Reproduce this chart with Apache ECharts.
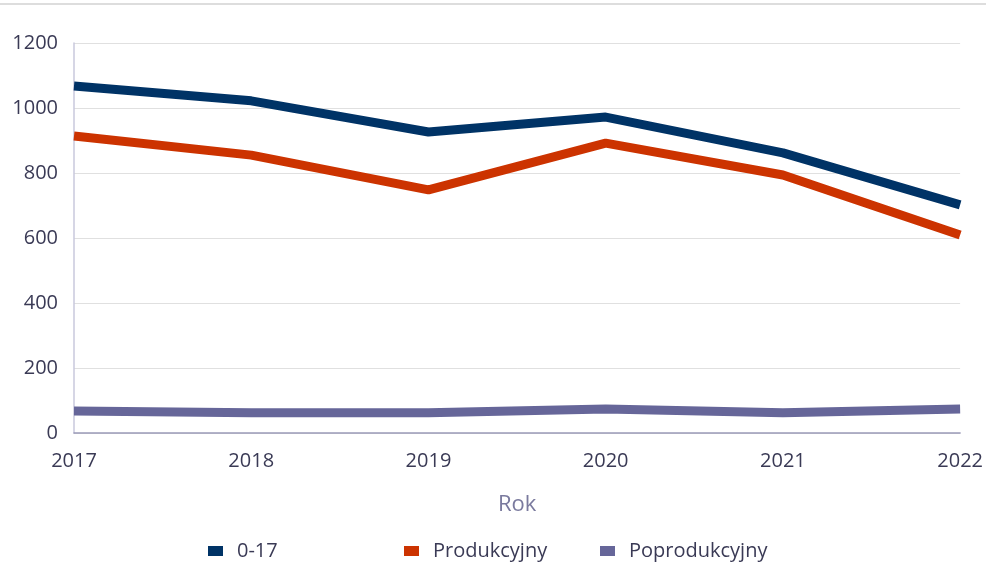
<!DOCTYPE html>
<html><head><meta charset="utf-8">
<script src="https://cdn.jsdelivr.net/npm/echarts@6/dist/echarts.min.js"></script>
<style>html,body{margin:0;padding:0;background:#fff}#c{width:986px;height:565px}</style>
</head><body><div id="c"></div>
<script>
const years = ['2017','2018','2019','2020','2021','2022'];
const s017 = [1068, 1022, 926, 972, 862, 702];
const sProd = [914, 855, 748, 892, 794, 609];
const sPoprod = [68, 62, 62, 74, 62, 74];
const seriesNames = ['0-17','Produkcyjny','Poprodukcyjny'];
const colors = ['#003366','#cc3300','#666699'];

const chart = echarts.init(document.getElementById('c'));
const font = 'Open Sans';
const legendLefts = [203, 399, 595];
chart.setOption({
  animation: false,
  color: colors,
  textStyle: {fontFamily: font},
  graphic: [{type:'line', shape:{x1:0,y1:4,x2:986,y2:4}, style:{stroke:'#dddddd', lineWidth:2}}],
  grid: {left: 74, right: 23, top: 43, bottom: 132, containLabel: false},
  legend: seriesNames.map((n, i) => ({
    data: [n], left: legendLefts[i], top: 536, itemWidth: 15, itemHeight: 10, icon: 'rect', itemGap: 8,
    textStyle: {fontFamily: font, fontSize: 20, color: '#3a3a55', padding: [0, 0, 0, 9]}
  })),
  xAxis: {
    type: 'category', data: years, boundaryGap: false,
    name: 'Rok', nameLocation: 'middle', nameGap: 61,
    nameTextStyle: {fontFamily: font, fontSize: 22, color: '#7a7a9e'},
    axisLine: {lineStyle: {color: '#9a9ab8', width: 1.5}},
    axisTick: {show: false},
    axisLabel: {fontFamily: font, fontSize: 20, color: '#3a3a55', margin: 18}
  },
  yAxis: {
    type: 'value', min: 0, max: 1200, interval: 200,
    axisLine: {show: true, lineStyle: {color: '#c8c8dc', width: 1.5}},
    axisTick: {show: false},
    splitLine: {lineStyle: {color: '#e0e0e0'}},
    axisLabel: {fontFamily: font, fontSize: 20, color: '#3a3a55', margin: 16, formatter: v => String(v)}
  },
  series: [s017, sProd, sPoprod].map((d, i) => ({
    name: seriesNames[i], type: 'line', data: d, symbol: 'none',
    lineStyle: {width: 9, color: colors[i]}, itemStyle: {color: colors[i]}
  }))
});
</script></body></html>
